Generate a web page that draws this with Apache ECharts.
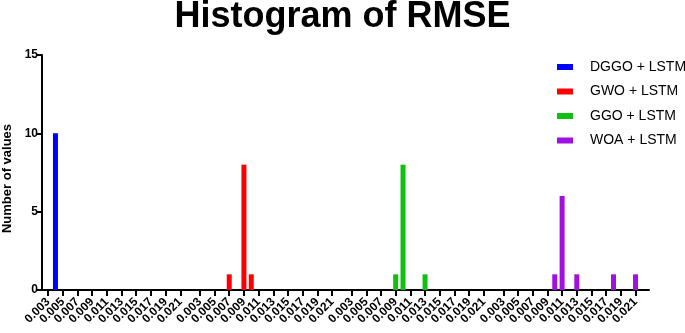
<!DOCTYPE html>
<html>
<head>
<meta charset="utf-8">
<script src="https://cdn.jsdelivr.net/npm/echarts@6/dist/echarts.min.js"></script>
<style>
html,body{margin:0;padding:0;background:#fff;}
#chart{width:685px;height:333px;}
</style>
</head>
<body>
<div id="chart"></div>
<script>
// ---- data ----
const binLabels = ['0.003','0.005','0.007','0.009','0.011','0.013','0.015','0.017','0.019','0.021'];
const seriesNames = ['DGGO + LSTM', 'GWO + LSTM', 'GGO + LSTM', 'WOA + LSTM'];
const dggoBins = [0.004];
const dggoCounts = [10];
const gwoBins = [0.007, 0.009, 0.010];
const gwoCounts = [1, 8, 1];
const ggoBins = [0.009, 0.010, 0.013];
const ggoCounts = [1, 8, 1];
const woaBins = [0.010, 0.011, 0.013, 0.018, 0.021];
const woaCounts = [1, 6, 1, 1, 1];
const yTicks = [0, 5, 10, 15];

// ---- layout of the grouped category axis ----
const slotsPerThousandth = 3;   // fine slots per 0.001
const groupPeriod = 62;         // slots from one group's start to the next
const leadSlots = 2;
const trailSlots = 5;
const firstBin = 0.003;

const groupSpan = Math.round((parseFloat(binLabels[binLabels.length-1]) - firstBin) * 1000 * slotsPerThousandth);
const nSlots = leadSlots + 3 * groupPeriod + groupSpan + 1 + trailSlots;

function slotIndex(g, v) {
  return leadSlots + g * groupPeriod + Math.round((v - firstBin) * 1000 * slotsPerThousandth);
}

const categories = [];
const tickSlots = new Set();
for (let i = 0; i < nSlots; i++) categories.push('s' + i + '|');
for (let g = 0; g < 4; g++) {
  binLabels.forEach(function (lab) {
    const idx = slotIndex(g, parseFloat(lab));
    categories[idx] = 's' + idx + '|' + lab;
    tickSlots.add(idx);
  });
}

function buildSeries(g, bins, counts) {
  const arr = new Array(nSlots).fill(null);
  bins.forEach(function (b, k) { arr[slotIndex(g, b)] = counts[k]; });
  return arr;
}

const colors = ['#0000FF', '#FF0000', '#10C010', '#A010E0'];
const seriesData = [
  buildSeries(0, dggoBins, dggoCounts),
  buildSeries(1, gwoBins, gwoCounts),
  buildSeries(2, ggoBins, ggoCounts),
  buildSeries(3, woaBins, woaCounts)
];

const font = 'Liberation Sans, Arial, Helvetica, sans-serif';
const chart = echarts.init(document.getElementById('chart'), null, {renderer: 'canvas'});
chart.setOption({
  animation: false,
  backgroundColor: '#fff',
  title: {
    text: 'Histogram of RMSE',
    left: 'center',
    top: -1,
    padding: 0,
    textStyle: {fontFamily: font, fontSize: 36, fontWeight: 'bold', color: '#000'}
  },
  legend: {
    orient: 'vertical',
    left: 557,
    top: 60,
    padding: 0,
    itemWidth: 16,
    itemHeight: 6,
    itemGap: 10.5,
    icon: 'rect',
    data: seriesNames,
    textStyle: {fontFamily: font, fontSize: 14, color: '#000', padding: [0, 0, 0, 12]}
  },
  grid: {left: 42, right: 36, top: 55, bottom: 43, containLabel: false, outerBoundsMode: 'none'},
  xAxis: {
    type: 'category',
    data: categories,
    boundaryGap: true,
    axisLine: {show: true, lineStyle: {color: '#000', width: 2}},
    axisTick: {
      show: true, alignWithLabel: true, length: 6,
      lineStyle: {color: '#000', width: 2},
      interval: function (index) { return tickSlots.has(index); }
    },
    axisLabel: {
      interval: 0,
      formatter: function (v) { return v.split('|')[1]; },
      rotate: 45,
      margin: 10,
      hideOverlap: false,
      showMinLabel: true,
      showMaxLabel: true,
      fontFamily: font, fontSize: 12, fontWeight: 'bold', color: '#000'
    },
    splitLine: {show: false}
  },
  yAxis: {
    type: 'value',
    min: yTicks[0],
    max: yTicks[yTicks.length-1],
    interval: yTicks[1] - yTicks[0],
    name: 'Number of values',
    nameLocation: 'middle',
    nameGap: 24,
    nameTextStyle: {fontFamily: font, fontSize: 13, fontWeight: 'bold', color: '#000', padding: [0, 12, 0, 0]},
    axisLine: {show: true, lineStyle: {color: '#000', width: 2}},
    axisTick: {show: true, length: 6, lineStyle: {color: '#000', width: 2}},
    axisLabel: {fontFamily: font, fontSize: 12, fontWeight: 'bold', color: '#000', margin: 4},
    splitLine: {show: false}
  },
  series: seriesNames.map(function (n, k) {
    return {
      name: n,
      type: 'bar',
      data: seriesData[k],
      barWidth: 5,
      barGap: '-100%',
      itemStyle: {color: colors[k]},
      emphasis: {disabled: true}
    };
  })
});
</script>
</body>
</html>
